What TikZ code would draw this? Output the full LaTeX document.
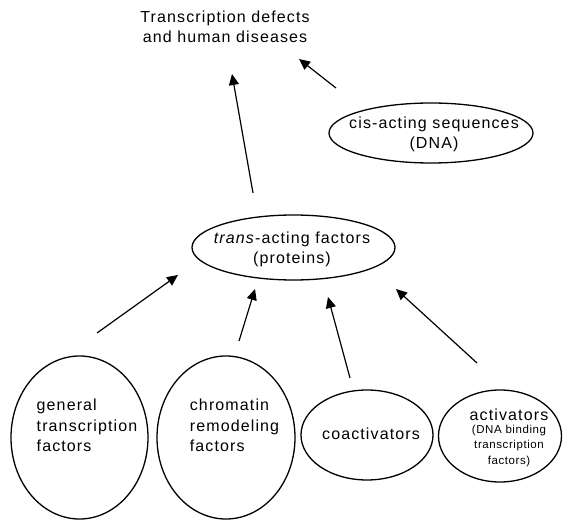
\documentclass[tikz,border=0pt]{standalone}
\usepackage{fontspec}
\setmainfont{Liberation Sans}[LetterSpace=7]
\newfontfamily\smallfnt{Liberation Sans}[LetterSpace=5]
\usetikzlibrary{shapes.geometric,arrows.meta}
\tikzset{
  ell/.style={draw, ellipse, line width=1.3pt, inner sep=0pt},
  lbl/.style={inner sep=0pt, align=center, font=\fontsize{16}{20}\selectfont},
  lbll/.style={inner sep=0pt, align=left, font=\fontsize{16}{20.5}\selectfont},
  arr/.style={line width=1.2pt, -{Triangle[length=11pt,width=10pt]}}
}
\begin{document}
\begin{tikzpicture}[x=1pt,y=-1pt]
\useasboundingbox (0,0) rectangle (565,521);
% title
\node[lbl] (title) at (225,27) {Transcription defects\\and human diseases};
% ellipses
\node[ell, minimum width=204pt, minimum height=60pt] (cis) at (431,133) {};
\node[lbl] (cist) at (434,134) {cis-acting sequences\\(DNA)};
\node[ell, minimum width=203pt, minimum height=65pt] (trans) at (293.5,247.5) {};
\node[lbl] (transt) at (292,249.5) {\textit{trans}-acting factors\\(proteins)};
\node[ell, minimum width=137pt, minimum height=163pt] (gen) at (79.5,437.5) {};
\node[lbll] (gent) at (87,425.5) {general\\transcription\\factors};
\node[ell, minimum width=138pt, minimum height=163pt] (chr) at (226,437.5) {};
\node[lbll] (chrt) at (234.5,425.5) {chromatin\\remodeling\\factors};
\node[ell, minimum width=132pt, minimum height=90pt] (coa) at (367,435) {};
\node[lbl] (coat) at (371,434) {coactivators};
\node[ell, minimum width=123pt, minimum height=92pt] (act) at (500,436) {};
\node[lbl] (actt) at (509,415) {activators};
\node[inner sep=0pt, align=center, font=\smallfnt\fontsize{11.5}{15.5}\selectfont] (acts) at (509,446) {(DNA binding\\transcription\\factors)};
% arrow end points
\coordinate (tA) at (253,193); \coordinate (hA) at (232,74);
\coordinate (tB) at (336,88);  \coordinate (hB) at (299,59);
\coordinate (tC) at (97,333);  \coordinate (hC) at (178,275);
\coordinate (tD) at (239,341); \coordinate (hD) at (255,289);
\coordinate (tE) at (350,378); \coordinate (hE) at (328,297);
\coordinate (tF) at (477,363); \coordinate (hF) at (396,289);
\draw[arr] (tA) -- (hA);
\draw[arr] (tB) -- (hB);
\draw[arr] (tC) -- (hC);
\draw[arr] (tD) -- (hD);
\draw[arr] (tE) -- (hE);
\draw[arr] (tF) -- (hF);
\end{tikzpicture}
\end{document}
